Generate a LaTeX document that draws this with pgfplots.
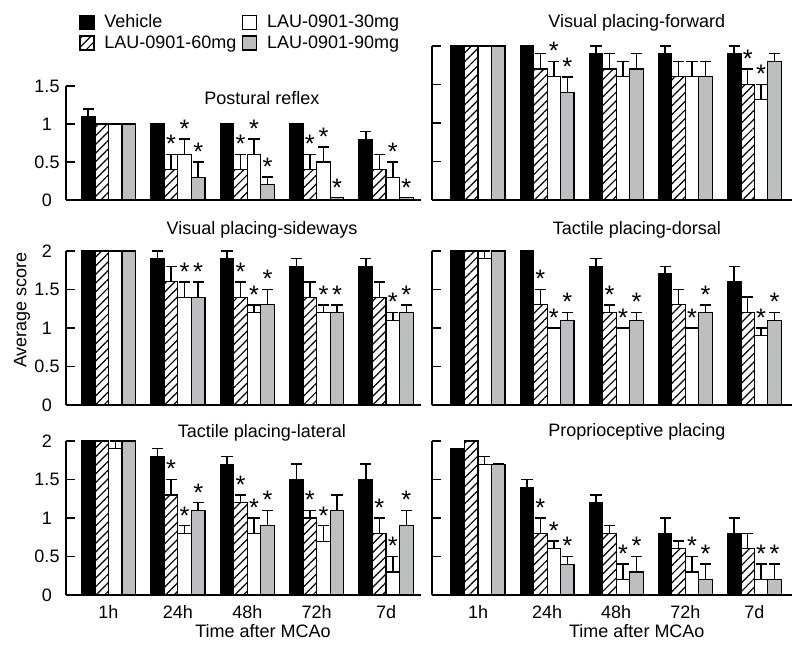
\documentclass[border=0pt]{standalone}
\usepackage{fontspec}
\setmainfont{Liberation Sans}
\usepackage{pgfplots}
\pgfplotsset{compat=1.18}
\usetikzlibrary{patterns.meta}
\definecolor{bargray}{RGB}{189,190,192}
\newcommand{\lbl}{\fontsize{13.5}{16}\selectfont}
\newcommand{\starfont}{\fontsize{19}{19}\selectfont}
\pgfplotsset{
  panel/.style={scale only axis, clip=false, ymin=0,
    axis x line*=bottom, axis y line*=left,
    axis line style={-, line width=1.1pt},
    tick align=inside, major tick length=7pt,
    tick style={line width=1.1pt, black},
    xtick={0,1,2,3,4}, xticklabels={}, xtick style={draw=none},
    ytick={0,0.5,1,1.5,2},
    /pgf/number format/assume math mode=true,
    ticklabel style={font=\lbl},
    yticklabel style={anchor=center, xshift=-14.25pt},
    xticklabel style={yshift=-4pt},
    title style={font=\lbl, anchor=center},
    label style={font=\lbl},
  },
  lp/.style={panel, width=266.25pt, xmin=-0.612, xmax=4.503,
    title style={at={(axis description cs:0.552,1.084)}}},
  rp/.style={panel, width=270pt, xmin=-0.666, xmax=4.544, yticklabels={},
    title style={at={(axis description cs:0.569,1.084)}}},
  bars/.style={/pgfplots/ybar, /pgf/bar width=0.195, draw=black, line width=0.9pt,
    /pgfplots/legend image code/.code={\draw[##1, line width=0.9pt] (0pt,-5.25pt) rectangle (10.5pt,5.25pt);},
    /pgfplots/error bars/y dir=plus, /pgfplots/error bars/y explicit,
    /pgfplots/error bars/error mark=|,
    /pgfplots/error bars/error bar style={line width=1.1pt, black, solid},
    /pgfplots/error bars/error mark options={line width=1.1pt, black, mark size=4.2pt}},
  veh/.style={bars, fill=black, /pgf/bar shift=-0.2925},
  h60/.style={bars, fill=white, pattern={Lines[angle=45, distance=4.6pt, line width=0.9pt]}, /pgf/bar shift=-0.0975},
  w30/.style={bars, fill=white, /pgf/bar shift=0.0975},
  g90/.style={bars, fill=bargray, /pgf/bar shift=0.2925},
  stars/.style={/pgfplots/ybar, /pgf/bar width=0.195, draw=none, fill=none, forget plot,
    nodes near coords={*},
    every node near coord/.append style={font=\starfont, inner sep=0pt, anchor=south, yshift=1pt, black}},
  s60/.style={stars, /pgf/bar shift=-0.0975},
  s30/.style={stars, /pgf/bar shift=0.0975},
  s90/.style={stars, /pgf/bar shift=0.2925},
}
\begin{document}
\begin{tikzpicture}
\useasboundingbox (0,0) rectangle (600pt,498.75pt);

% ---------------- Top left: Postural reflex
\begin{axis}[lp, at={(49.5pt,348.75pt)}, anchor=south west, width=266.25pt, height=85.5pt,
  ymax=1.5, ytick={0,0.5,1,1.5},
  title={Postural reflex}, title style={at={(axis description cs:0.552,0.825)}},
  legend columns=2, transpose legend,
  legend style={draw=none, fill=none, font=\lbl, at={(axis description cs:0.037,1.64)}, anchor=north west,
    inner sep=0pt, row sep=2.5pt, nodes={inner ysep=1pt, inner xsep=4.3pt}},
  legend cell align=left,
  /tikz/every odd column/.append style={column sep=3pt}]
\addplot[veh] coordinates {(0,1.1) +- (0,0.1) (1,1.0) +- (0,0) (2,1.0) +- (0,0) (3,1.0) +- (0,0) (4,0.8) +- (0,0.1)};
\addlegendentry{Vehicle}
\addplot[h60] coordinates {(0,1.0) +- (0,0) (1,0.4) +- (0,0.2) (2,0.4) +- (0,0.2) (3,0.4) +- (0,0.2) (4,0.4) +- (0,0.2)};
\addlegendentry{LAU-0901-60mg}
\addplot[w30] coordinates {(0,1.0) +- (0,0) (1,0.6) +- (0,0.2) (2,0.6) +- (0,0.2) (3,0.5) +- (0,0.2) (4,0.3) +- (0,0.2)};
\addlegendentry{LAU-0901-30mg}
\addplot[g90] coordinates {(0,1.0) +- (0,0) (1,0.3) +- (0,0.2) (2,0.2) +- (0,0.1) (3,0.03) +- (0,0) (4,0.03) +- (0,0)};
\addlegendentry{LAU-0901-90mg}
\addplot[s60] coordinates {(1,0.6) (2,0.6) (3,0.6)};
\addplot[s30] coordinates {(1,0.8) (2,0.8) (3,0.7) (4,0.5)};
\addplot[s90] coordinates {(1,0.5) (2,0.3) (3,0.03) (4,0.03)};
\end{axis}

% ---------------- Top right: Visual placing-forward
\begin{axis}[rp, at={(324pt,348.75pt)}, anchor=south west, width=270pt, height=115.5pt,
  ymax=2, title={Visual placing-forward}, title style={at={(axis description cs:0.569,1.097)}}]
\addplot[veh] coordinates {(0,2.0) +- (0,0) (1,2.0) +- (0,0) (2,1.9) +- (0,0.1) (3,1.9) +- (0,0.1) (4,1.9) +- (0,0.1)};
\addplot[h60] coordinates {(0,2.0) +- (0,0) (1,1.7) +- (0,0.2) (2,1.7) +- (0,0.2) (3,1.6) +- (0,0.2) (4,1.5) +- (0,0.2)};
\addplot[w30] coordinates {(0,2.0) +- (0,0) (1,1.6) +- (0,0.2) (2,1.6) +- (0,0.2) (3,1.6) +- (0,0.2) (4,1.3) +- (0,0.2)};
\addplot[g90] coordinates {(0,2.0) +- (0,0) (1,1.4) +- (0,0.2) (2,1.7) +- (0,0.2) (3,1.6) +- (0,0.2) (4,1.8) +- (0,0.1)};
\addplot[s60] coordinates {(4,1.7)};
\addplot[s30] coordinates {(1,1.8) (4,1.5)};
\addplot[s90] coordinates {(1,1.6)};
\end{axis}

% ---------------- Middle left: Visual placing-sideways
\begin{axis}[lp, at={(49.5pt,195pt)}, anchor=south west, width=266.25pt, height=115.5pt,
  ymax=2, title={Visual placing-sideways},
  ylabel={Average score}, ylabel style={at={(axis description cs:-0.124,0.617)}, anchor=center}]
\addplot[veh] coordinates {(0,2.0) +- (0,0) (1,1.9) +- (0,0.1) (2,1.9) +- (0,0.1) (3,1.8) +- (0,0.1) (4,1.8) +- (0,0.1)};
\addplot[h60] coordinates {(0,2.0) +- (0,0) (1,1.6) +- (0,0.2) (2,1.4) +- (0,0.2) (3,1.4) +- (0,0.2) (4,1.4) +- (0,0.2)};
\addplot[w30] coordinates {(0,2.0) +- (0,0) (1,1.4) +- (0,0.2) (2,1.2) +- (0,0.1) (3,1.2) +- (0,0.1) (4,1.1) +- (0,0.1)};
\addplot[g90] coordinates {(0,2.0) +- (0,0) (1,1.4) +- (0,0.2) (2,1.3) +- (0,0.2) (3,1.2) +- (0,0.1) (4,1.2) +- (0,0.1)};
\addplot[s60] coordinates {(2,1.6)};
\addplot[s30] coordinates {(1,1.6) (2,1.3) (3,1.3) (4,1.2)};
\addplot[s90] coordinates {(1,1.6) (2,1.5) (3,1.3) (4,1.3)};
\end{axis}

% ---------------- Middle right: Tactile placing-dorsal
\begin{axis}[rp, at={(324pt,195pt)}, anchor=south west, width=270pt, height=115.5pt,
  ymax=2, title={Tactile placing-dorsal}]
\addplot[veh] coordinates {(0,2.0) +- (0,0) (1,2.0) +- (0,0) (2,1.8) +- (0,0.1) (3,1.7) +- (0,0.1) (4,1.6) +- (0,0.2)};
\addplot[h60] coordinates {(0,2.0) +- (0,0) (1,1.3) +- (0,0.2) (2,1.2) +- (0,0.1) (3,1.3) +- (0,0.2) (4,1.2) +- (0,0.2)};
\addplot[w30] coordinates {(0,1.9) +- (0,0.1) (1,1.0) +- (0,0) (2,1.0) +- (0,0) (3,1.0) +- (0,0) (4,0.9) +- (0,0.1)};
\addplot[g90] coordinates {(0,2.0) +- (0,0) (1,1.1) +- (0,0.1) (2,1.1) +- (0,0.1) (3,1.2) +- (0,0.1) (4,1.1) +- (0,0.1)};
\addplot[s60] coordinates {(1,1.5) (2,1.3)};
\addplot[s30] coordinates {(1,1.0) (2,1.0) (3,1.0) (4,1.0)};
\addplot[s90] coordinates {(1,1.2) (2,1.2) (3,1.3) (4,1.2)};
\end{axis}

% ---------------- Bottom left: Tactile placing-lateral
\begin{axis}[lp, at={(49.5pt,52.5pt)}, anchor=south west, width=266.25pt, height=115.5pt,
  ymax=2, title={Tactile placing-lateral}, title style={at={(axis description cs:0.552,1.0)}},
  xticklabels={1h,24h,48h,72h,7d},
  xlabel={Time after MCAo}, xlabel style={at={(axis description cs:0.555,-0.235)}, anchor=center}]
\addplot[veh] coordinates {(0,2.0) +- (0,0) (1,1.8) +- (0,0.1) (2,1.7) +- (0,0.1) (3,1.5) +- (0,0.2) (4,1.5) +- (0,0.2)};
\addplot[h60] coordinates {(0,2.0) +- (0,0) (1,1.3) +- (0,0.2) (2,1.2) +- (0,0.1) (3,1.0) +- (0,0.1) (4,0.8) +- (0,0.2)};
\addplot[w30] coordinates {(0,1.9) +- (0,0.1) (1,0.8) +- (0,0.1) (2,0.8) +- (0,0.2) (3,0.7) +- (0,0.2) (4,0.3) +- (0,0.2)};
\addplot[g90] coordinates {(0,2.0) +- (0,0) (1,1.1) +- (0,0.1) (2,0.9) +- (0,0.2) (3,1.1) +- (0,0.2) (4,0.9) +- (0,0.2)};
\addplot[s60] coordinates {(1,1.5) (2,1.3) (3,1.1) (4,1.0)};
\addplot[s30] coordinates {(1,0.9) (2,1.0) (3,0.9) (4,0.5)};
\addplot[s90] coordinates {(1,1.2) (2,1.1) (4,1.1)};
\end{axis}

% ---------------- Bottom right: Proprioceptive placing
\begin{axis}[rp, at={(324pt,52.5pt)}, anchor=south west, width=270pt, height=115.5pt,
  ymax=2, title={Proprioceptive placing}, title style={at={(axis description cs:0.569,1.006)}},
  xticklabels={1h,24h,48h,72h,7d},
  xlabel={Time after MCAo}, xlabel style={at={(axis description cs:0.569,-0.235)}, anchor=center}]
\addplot[veh] coordinates {(0,1.9) +- (0,0) (1,1.4) +- (0,0.1) (2,1.2) +- (0,0.1) (3,0.8) +- (0,0.2) (4,0.8) +- (0,0.2)};
\addplot[h60] coordinates {(0,2.0) +- (0,0) (1,0.8) +- (0,0.2) (2,0.8) +- (0,0.1) (3,0.6) +- (0,0.1) (4,0.6) +- (0,0.2)};
\addplot[w30] coordinates {(0,1.7) +- (0,0.1) (1,0.6) +- (0,0.1) (2,0.2) +- (0,0.2) (3,0.3) +- (0,0.2) (4,0.2) +- (0,0.2)};
\addplot[g90] coordinates {(0,1.7) +- (0,0) (1,0.4) +- (0,0.1) (2,0.3) +- (0,0.2) (3,0.2) +- (0,0.2) (4,0.2) +- (0,0.2)};
\addplot[s60] coordinates {(1,1.0)};
\addplot[s30] coordinates {(1,0.7) (2,0.4) (3,0.5) (4,0.4)};
\addplot[s90] coordinates {(1,0.5) (2,0.5) (3,0.4) (4,0.4)};
\end{axis}
\end{tikzpicture}
\end{document}
